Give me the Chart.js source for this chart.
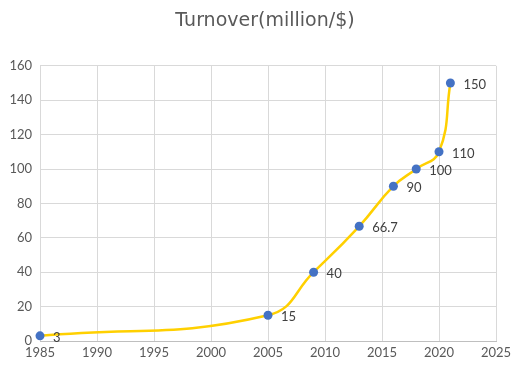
<!DOCTYPE html>
<html>
<head>
<meta charset="utf-8">
<script src="https://cdn.jsdelivr.net/npm/chart.js@4/dist/chart.umd.min.js"></script>
<style>
html,body{margin:0;padding:0;background:#fff;}
#wrap{width:530px;height:382px;}
</style>
</head>
<body>
<div id="wrap"><canvas id="c" width="530" height="382"></canvas></div>
<script>
const years = [1985, 2005, 2009, 2013, 2016, 2018, 2020, 2021];
const turnover = [3, 15, 40, 66.7, 90, 100, 110, 150];
const valueLabels = ['3', '15', '40', '66.7', '90', '100', '110', '150'];
const titleText = 'Turnover(million/$)';

const labelPlugin = {
  id: 'pointLabels',
  afterDatasetsDraw(chart) {
    const ctx = chart.ctx;
    const meta = chart.getDatasetMeta(0);
    ctx.save();
    ctx.font = '13px Lato, "Open Sans", sans-serif';
    ctx.fillStyle = '#404040';
    ctx.textAlign = 'left';
    ctx.textBaseline = 'middle';
    meta.data.forEach((pt, i) => {
      ctx.fillText(valueLabels[i], pt.x + 13, pt.y + 2);
    });
    ctx.restore();
  }
};

new Chart(document.getElementById('c'), {
  type: 'line',
  data: {
    datasets: [{
      data: years.map((y, i) => ({x: y, y: turnover[i]})),
      borderColor: '#FFD000',
      borderWidth: 2.5,
      backgroundColor: '#4472C4',
      pointBackgroundColor: '#4472C4',
      pointBorderColor: '#4472C4',
      pointRadius: 4.5,
      pointBorderWidth: 0,
      tension: 0.45,
      cubicInterpolationMode: 'default',
      fill: false,
      clip: false
    }]
  },
  options: {
    responsive: false,
    animation: false,
    layout: {padding: 0},
    plugins: {
      legend: {display: false},
      tooltip: {enabled: false},
      title: {
        display: true,
        text: titleText,
        color: '#595959',
        font: {family: '"DejaVu Sans", sans-serif', size: 19, weight: 'normal'},
        padding: {top: 10, bottom: 33}
      }
    },
    scales: {
      x: {
        type: 'linear',
        min: 1985, max: 2025,
        ticks: {stepSize: 5, color: '#595959', font: {family: 'Lato, sans-serif', size: 13}, padding: 4,
                callback: v => String(v), maxRotation: 0},
        grid: {color: '#D9D9D9', drawTicks: false},
        border: {color: '#BFBFBF'},
        afterFit(s) { s.height = 41; }
      },
      y: {
        min: 0, max: 160,
        ticks: {stepSize: 20, color: '#595959', font: {family: 'Lato, sans-serif', size: 13}, padding: 8},
        grid: {color: '#D9D9D9', drawTicks: false},
        border: {display: false},
        afterFit(s) { s.width = 40; }
      },
      yRight: {
        position: 'right',
        min: 0, max: 160,
        ticks: {display: false},
        grid: {display: false, drawTicks: false},
        border: {display: false},
        afterFit(s) { s.width = 34; }
      }
    }
  },
  plugins: [labelPlugin]
});
</script>
</body>
</html>
